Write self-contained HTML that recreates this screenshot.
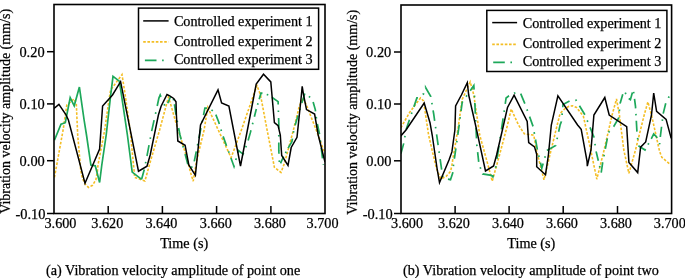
<!DOCTYPE html>
<html><head><meta charset="utf-8"><style>
html,body{margin:0;padding:0;background:#fff;}
body{width:685px;height:278px;overflow:hidden;}
svg{display:block;will-change:transform;}
text{font-family:"Liberation Serif",serif;font-size:14px;fill:#000;stroke:#000;stroke-width:0.25px;}
</style></head><body>
<svg width="685" height="278" viewBox="0 0 685 278">
<rect width="685" height="278" fill="#fff"/>
<clipPath id="ca"><rect x="54" y="4.5" width="271" height="209.0"/></clipPath>
<g clip-path="url(#ca)" fill="none" stroke-linejoin="miter">
<polyline points="54.4,177.4 55.8,170.0 63.1,130.0 66.8,105.2 74.0,99.0 76.3,103.8 77.7,135.0 80.7,170.0 82.5,178.5 85.5,184.5 88.5,187.5 92.5,185.3 95.8,180.0 97.3,172.0 98.0,165.0 104.7,130.0 108.4,103.8 110.6,90.0 122.0,74.6 125.2,95.0 130.3,131.5 134.0,170.0 134.7,177.4 144.9,181.0 150.8,160.0 159.6,130.0 168.4,97.2 170.5,103.8 176.4,124.2 187.3,159.2 190.3,171.7 193.2,181.2 196.8,160.0 204.1,130.0 207.8,107.4 231.1,157.7 241.4,130.0 256.9,85.5 260.5,95.0 267.1,130.0 274.4,167.3 281.0,172.4 284.6,162.9 293.4,130.0 299.2,106.7 302.9,98.0 306.5,105.2 316.8,131.5 324.8,153.4" stroke="#F4BE25" stroke-width="1.6" stroke-dasharray="2.6 1.6"/>
<polyline points="54.4,140.2 61.0,124.2 65.3,122.7 70.2,97.7 74.2,105.8 79.4,87.1 84.1,120.0 86.5,135.0 90.9,165.0 95.3,165.8 99.6,182.5 101.8,165.0 106.2,135.0 110.7,95.0 113.0,76.3 119.3,81.2 121.5,95.0 127.4,135.0 130.0,155.0 132.2,172.1 141.6,179.3" stroke="#1DA85A" stroke-width="1.7"/>
<path d="M141.60,179.30 L144.28,169.47 M145.49,163.44 L145.81,161.87 M146.99,155.93 L147.00,155.90 L149.03,145.13 M150.21,138.88 L150.50,137.31 M151.67,131.17 L154.10,120.18 M155.51,113.81 L155.86,112.24 M157.22,105.97 L158.90,98.10 L160.20,95.00 L160.98,96.82 M164.12,104.09 L164.75,105.56 M167.78,103.26 L170.10,97.70 L171.10,96.93 M173.42,98.89 L173.70,100.46 M174.39,104.27 L174.70,106.00 L175.95,114.67 M177.12,120.60 L177.43,122.17 M178.60,127.99 L180.00,135.00 L181.18,139.44 M182.94,146.04 L183.36,147.59 M185.09,154.09 L187.82,164.33 M190.99,167.30 L192.52,166.82 M194.25,161.42 L196.29,151.31 M197.46,145.51 L197.77,143.94 M198.93,138.24 L199.70,134.40 L200.94,128.12 M202.09,122.32 L202.40,120.75 M203.53,115.04 L204.90,108.10 L206.94,108.10 M211.49,109.84 L212.77,110.81 M215.82,114.59 L218.70,122.00 L219.30,124.01 M220.94,129.51 L221.40,131.04 M223.13,136.41 L226.54,145.86 M228.49,151.25 L229.03,152.76 M230.95,158.06 L234.00,166.50 L234.28,165.46 M235.80,159.93 L236.22,158.39 M237.71,152.94 L238.40,150.40 L243.00,154.10 L243.56,152.70 M245.69,147.38 L246.28,145.89 M248.12,140.56 L250.30,132.90 L250.98,130.22 M252.50,124.22 L252.89,122.67 M254.38,116.77 L256.20,109.60 L256.36,109.06 M257.57,104.85 L258.02,103.32 M259.21,99.18 L261.00,93.00 L262.48,93.39 M266.72,94.50 L268.26,94.91 M271.85,97.26 L278.10,101.60 L278.19,104.46 M278.37,110.47 L278.42,112.07 M278.61,117.98 L278.80,124.20 L278.80,128.71 M278.80,134.90 L278.80,136.50 M278.80,142.58 L278.80,150.40 L278.96,153.83 M279.25,160.35 L279.32,161.95 M280.52,163.44 L281.70,160.70 L283.68,156.69 M285.48,153.06 L286.19,151.63 M288.12,148.14 L291.90,141.70 L292.42,138.61 M293.43,132.59 L293.69,131.02 M295.13,125.20 L298.06,115.56 M299.73,110.05 L300.20,108.52 M301.84,103.10 L304.30,95.00 L304.82,93.52 M308.92,96.39 L310.13,97.44 M313.12,101.93 L315.30,109.60 L315.53,111.39 M316.24,116.90 L316.44,118.49 M317.35,123.88 L319.54,134.25 M320.33,140.29 L320.53,141.88 M321.24,147.84 L322.50,158.36 M323.23,164.42 L323.30,165.00" stroke="#1DA85A" stroke-width="1.7"/>
<polyline points="54.0,108.5 58.9,104.4 65.7,114.3 68.4,120.0 85.0,183.2 99.6,149.0 102.6,106.0 112.5,95.0 120.6,81.7 138.5,171.2 147.0,166.2 150.2,155.0 158.4,115.0 161.1,106.2 167.0,94.5 169.7,95.8 173.7,98.5 176.0,101.7 176.4,115.0 177.8,141.0 185.1,145.3 188.8,165.0 195.4,175.3 200.5,125.0 218.0,89.9 221.6,103.0 228.9,106.0 240.5,166.0 256.2,84.1 263.5,74.2 270.8,81.9 273.0,106.7 274.4,122.7 278.1,125.7 280.3,135.0 281.7,155.5 288.0,165.5 291.2,147.5 297.0,137.3 301.4,95.0 302.2,86.3 303.6,95.0 306.5,109.6 314.6,114.0 318.2,135.0 325.0,162.0" stroke="#000" stroke-width="1.5"/>
</g>
<rect x="54" y="4.5" width="271" height="209.0" fill="none" stroke="#000" stroke-width="1.6"/>
<line x1="47" y1="51.7" x2="54" y2="51.7" stroke="#000" stroke-width="1.5"/>
<line x1="47" y1="103.9" x2="54" y2="103.9" stroke="#000" stroke-width="1.5"/>
<line x1="47" y1="160.7" x2="54" y2="160.7" stroke="#000" stroke-width="1.5"/>
<line x1="47" y1="213.5" x2="54" y2="213.5" stroke="#000" stroke-width="1.5"/>
<line x1="108.2" y1="213.5" x2="108.2" y2="206.0" stroke="#000" stroke-width="1.5"/>
<line x1="162.4" y1="213.5" x2="162.4" y2="206.0" stroke="#000" stroke-width="1.5"/>
<line x1="216.6" y1="213.5" x2="216.6" y2="206.0" stroke="#000" stroke-width="1.5"/>
<line x1="270.9" y1="213.5" x2="270.9" y2="206.0" stroke="#000" stroke-width="1.5"/>
<text x="44.5" y="227.6" style="font-size:14.2px">3.600</text>
<text x="91.3" y="227.6" style="font-size:14.2px">3.620</text>
<text x="145.4" y="227.6" style="font-size:14.2px">3.640</text>
<text x="199.8" y="227.6" style="font-size:14.2px">3.660</text>
<text x="254" y="227.6" style="font-size:14.2px">3.680</text>
<text x="306.6" y="227.6" style="font-size:14.2px">3.700</text>
<text x="44.6" y="56.9" text-anchor="end" style="font-size:14.4px">0.20</text>
<text x="44.8" y="109.0" text-anchor="end" style="font-size:14.4px">0.10</text>
<text x="44.8" y="165.7" text-anchor="end" style="font-size:14.4px">0.00</text>
<text x="45.4" y="218.7" text-anchor="end" style="font-size:14.4px">-0.10</text>
<text transform="translate(10,213.8) rotate(-90)">Vibration velocity amplitude (mm/s)</text>
<text x="160.2" y="248.1" style="font-size:14.2px">Time (s)</text>
<text x="46.0" y="275.0" style="font-size:14.2px">(a) Vibration velocity amplitude of point one</text>
<rect x="138.5" y="8.1" width="180.1" height="61.2" fill="#fff" stroke="#000" stroke-width="1.5"/>
<line x1="143.2" y1="20.9" x2="168.6" y2="20.9" stroke="#000" stroke-width="1.5"/>
<line x1="143.2" y1="41.9" x2="168.6" y2="41.9" stroke="#F4BE25" stroke-width="1.6" stroke-dasharray="2.6 1.6"/>
<line x1="144.9" y1="60.4" x2="163.9" y2="60.4" stroke="#1DA85A" stroke-width="1.8" stroke-dasharray="11.6 5.6 1.6 20"/>
<text x="173.9" y="25.6" style="font-size:14.2px">Controlled experiment 1</text>
<text x="173.9" y="45.7" style="font-size:14.2px">Controlled experiment 2</text>
<text x="173.9" y="64.1" style="font-size:14.2px">Controlled experiment 3</text>
<clipPath id="cb"><rect x="401" y="5" width="270.6" height="208.5"/></clipPath>
<g clip-path="url(#cb)" fill="none" stroke-linejoin="miter">
<polyline points="400.8,127.8 409.6,112.5 420.5,97.9 423.5,100.8 428.6,135.0 434.4,160.0 436.6,168.8 440.8,179.0 446.0,176.5 450.5,171.5 451.8,166.0 452.7,160.0 457.8,130.0 462.2,99.4 470.2,81.9 473.8,95.0 479.7,135.0 488.4,166.5 492.2,181.3 499.5,155.0 507.5,125.0 511.2,109.0 518.5,125.0 524.3,133.8 533.8,135.2 536.7,151.3 544.0,179.8 549.9,155.0 557.2,125.0 560.1,113.4 565.0,108.6 569.0,106.2 572.5,105.8 576.5,107.5 583.4,116.3 589.5,144.2 596.8,179.2 604.1,150.0 612.1,115.0 616.5,99.0 619.4,115.0 623.8,150.0 628.9,173.4 635.5,150.0 644.2,115.0 647.9,101.9 651.5,115.0 659.6,151.5 661.8,157.3 670.5,164.6" stroke="#F4BE25" stroke-width="1.6" stroke-dasharray="2.6 1.6"/>
<path d="M400.93,153.62 L403.72,143.39 M404.76,137.38 L405.03,135.80 M406.04,129.89 L409.45,119.85 M411.41,114.08 L411.92,112.56 M413.85,106.88 L416.90,97.90 L417.93,97.97 M422.74,94.51 L423.50,93.90 L423.71,93.31 M425.70,87.71 L425.70,87.70 L430.80,96.50 L430.86,96.87 M431.85,102.86 L432.12,104.44 M433.09,110.33 L433.70,114.00 L434.66,120.77 M435.52,126.78 L435.74,128.36 M436.58,134.28 L436.60,134.40 L438.13,145.11 M439.03,151.38 L439.26,152.96 M440.14,159.12 L441.64,169.57 M442.60,175.57 L442.86,177.14 M447.98,179.13 L450.50,179.70 L452.70,173.10 L452.79,172.18 M453.36,166.19 L453.40,165.80 L453.57,164.60 M454.40,158.75 L455.88,148.38 M456.73,142.43 L456.96,140.84 M457.79,134.99 L458.50,130.00 L459.22,124.62 M460.02,118.65 L460.23,117.07 M461.01,111.20 L462.20,102.30 L462.82,101.40 M466.09,96.66 L467.00,95.34 M470.22,90.68 L473.80,85.50 L474.07,89.62 M474.45,95.59 L474.55,97.19 M474.84,103.07 L475.35,113.79 M475.64,119.97 L475.71,121.57 M476.00,127.64 L476.51,138.36 M476.80,144.54 L476.80,144.60 L476.97,146.13 M477.64,152.18 L478.71,161.89 M480.20,167.21 L480.74,168.72 M482.59,173.87 L482.60,173.90 L491.40,175.30 L492.90,176.90 L493.40,175.13 M495.49,167.78 L495.80,166.70 L495.87,166.22 M497.01,158.79 L498.97,145.96 M500.12,138.40 L500.35,136.81 M501.47,129.37 L503.10,118.50 L503.13,118.29 M504.07,111.86 L504.30,110.27 M505.23,103.95 L506.10,98.00 L509.00,95.80 L509.03,95.79 M513.97,93.36 L515.40,92.65 M520.70,93.61 L524.85,103.55 M526.97,109.39 L527.51,110.90 M529.57,116.65 L533.06,126.38 M534.15,132.21 L534.44,133.78 M535.50,139.52 L537.37,149.64 M538.74,155.38 L539.12,156.94 M540.47,162.58 L541.80,168.10 L543.13,163.50 M544.81,157.72 L545.25,156.18 M546.90,150.50 L546.90,150.50 L555.70,145.40 L555.77,145.07 M557.05,139.16 L557.38,137.60 M558.64,131.78 L560.10,125.00 L561.50,121.40 L561.51,121.30 M562.07,115.02 L562.21,113.43 M562.76,107.26 L563.00,104.60 L569.54,101.03 M575.28,100.30 L576.10,100.20 L576.50,100.86 M579.44,105.74 L584.89,114.78 M587.18,120.40 L587.78,121.88 M590.04,127.41 L593.90,136.90 L594.00,137.55 M594.94,143.78 L595.18,145.36 M596.10,151.49 L596.10,151.50 L598.32,160.69 M599.58,165.90 L599.96,167.46 M601.20,172.58 L601.20,172.60 L602.60,163.10 L602.77,162.22 M603.91,156.29 L604.22,154.72 M605.34,148.88 L607.36,138.43 M608.56,132.43 L609.61,131.23 M613.59,126.71 L613.60,126.70 L618.70,117.90 L618.76,117.31 M619.35,111.12 L619.51,109.53 M620.10,103.45 L620.10,103.40 L622.78,94.20 M625.23,92.64 L625.88,94.10 M628.73,98.48 L630.40,99.70 L632.40,92.41 M633.61,91.90 L633.82,93.48 M634.52,98.81 L635.50,106.30 L635.62,108.37 M635.92,113.83 L636.02,115.42 M636.32,120.79 L636.90,131.10 L636.96,131.68 M637.60,137.94 L637.77,139.53 M638.40,145.70 L638.40,145.70 L645.00,150.00 L645.54,149.03 M648.01,144.63 L648.79,143.23 M651.22,138.90 L651.50,138.40 L653.70,134.00 L656.60,136.90 L657.06,138.03 M659.44,143.80 L659.60,144.20 L659.71,143.03 M660.30,136.92 L660.30,136.90 L661.56,126.75 M662.29,120.92 L662.49,119.33 M663.20,113.60 L663.20,113.60 L665.75,103.31 M668.40,97.86 L669.00,96.80 L669.22,96.49" stroke="#1DA85A" stroke-width="1.7"/>
<polyline points="400.8,136.0 406.0,130.0 424.2,103.0 430.0,122.7 432.2,135.0 437.3,170.0 439.5,182.6 449.0,160.0 451.9,151.9 454.9,130.0 455.6,106.0 461.4,95.0 467.3,82.6 468.7,95.0 476.0,127.1 485.5,171.0 493.6,166.0 496.6,155.0 502.4,130.0 507.5,107.5 514.1,95.1 527.2,121.4 528.7,142.5 534.5,146.9 536.7,154.2 536.7,166.7 545.5,174.7 548.4,155.0 551.3,125.0 557.9,95.8 577.6,125.0 581.2,129.4 587.1,161.5 587.3,166.1 591.0,150.0 593.9,115.0 604.8,97.5 609.2,115.0 626.7,126.7 628.9,162.4 637.7,172.6 640.6,147.1 645.7,142.0 651.5,115.0 653.7,93.1 656.6,111.4 666.1,119.4 671.2,138.4" stroke="#000" stroke-width="1.5"/>
</g>
<rect x="401" y="5" width="270.6" height="208.5" fill="none" stroke="#000" stroke-width="1.6"/>
<line x1="394" y1="52" x2="401" y2="52" stroke="#000" stroke-width="1.5"/>
<line x1="394" y1="104" x2="401" y2="104" stroke="#000" stroke-width="1.5"/>
<line x1="394" y1="160.8" x2="401" y2="160.8" stroke="#000" stroke-width="1.5"/>
<line x1="394" y1="213.5" x2="401" y2="213.5" stroke="#000" stroke-width="1.5"/>
<line x1="455.1" y1="213.5" x2="455.1" y2="206.0" stroke="#000" stroke-width="1.5"/>
<line x1="509.1" y1="213.5" x2="509.1" y2="206.0" stroke="#000" stroke-width="1.5"/>
<line x1="563.2" y1="213.5" x2="563.2" y2="206.0" stroke="#000" stroke-width="1.5"/>
<line x1="617.5" y1="213.5" x2="617.5" y2="206.0" stroke="#000" stroke-width="1.5"/>
<text x="391.1" y="227.6" style="font-size:14.2px">3.600</text>
<text x="438" y="227.6" style="font-size:14.2px">3.620</text>
<text x="492" y="227.6" style="font-size:14.2px">3.640</text>
<text x="546" y="227.6" style="font-size:14.2px">3.660</text>
<text x="600.0" y="227.6" style="font-size:14.2px">3.680</text>
<text x="653.8" y="227.6" style="font-size:14.2px">3.700</text>
<text x="391.3" y="57.0" text-anchor="end" style="font-size:14.4px">0.20</text>
<text x="391.5" y="109.0" text-anchor="end" style="font-size:14.4px">0.10</text>
<text x="391.5" y="165.7" text-anchor="end" style="font-size:14.4px">0.00</text>
<text x="392.7" y="218.7" text-anchor="end" style="font-size:14.4px">-0.10</text>
<text transform="translate(357.3,214.7) rotate(-90)">Vibration velocity amplitude (mm/s)</text>
<text x="507.3" y="248.1" style="font-size:14.2px">Time (s)</text>
<text x="403.0" y="275.0" style="font-size:14.2px">(b) Vibration velocity amplitude of point two</text>
<rect x="486.8" y="10.4" width="180.1" height="61.1" fill="#fff" stroke="#000" stroke-width="1.5"/>
<line x1="492.2" y1="22.6" x2="517.1" y2="22.6" stroke="#000" stroke-width="1.5"/>
<line x1="492.2" y1="44.4" x2="517.1" y2="44.4" stroke="#F4BE25" stroke-width="1.6" stroke-dasharray="2.6 1.6"/>
<line x1="493.2" y1="62.3" x2="512.2" y2="62.3" stroke="#1DA85A" stroke-width="1.8" stroke-dasharray="11.6 5.6 1.6 20"/>
<text x="522.7" y="27.7" style="font-size:14.2px">Controlled experiment 1</text>
<text x="522.7" y="47.8" style="font-size:14.2px">Controlled experiment 2</text>
<text x="522.7" y="66.1" style="font-size:14.2px">Controlled experiment 3</text>
</svg>
</body></html>
